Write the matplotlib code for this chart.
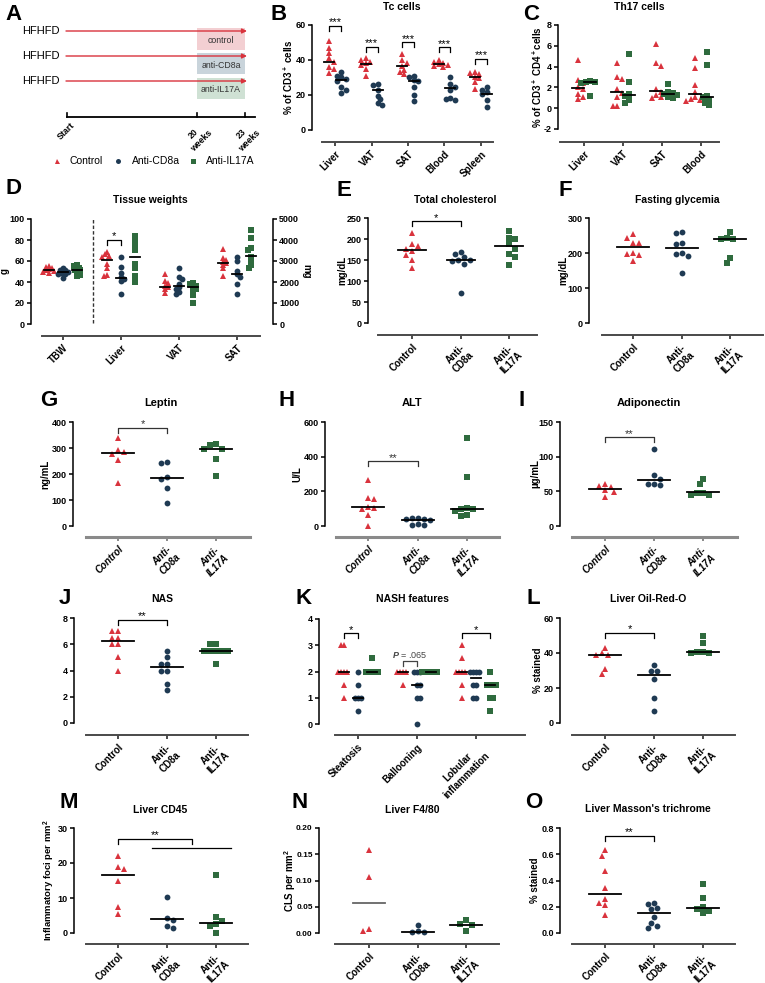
import numpy as np
import matplotlib
matplotlib.use("Agg")
import matplotlib.pyplot as plt
from matplotlib import font_manager
from matplotlib.patches import Rectangle
from matplotlib.ticker import FormatStrFormatter

names = {f.name for f in font_manager.fontManager.ttflist}
NARROW = 'Liberation Sans Narrow' if 'Liberation Sans Narrow' in names else 'Liberation Sans'

plt.rcParams['font.family'] = ['Liberation Sans', 'DejaVu Sans']
plt.rcParams['font.weight'] = 'bold'
plt.rcParams['mathtext.fontset'] = 'custom'
plt.rcParams['mathtext.rm'] = 'Liberation Sans:bold'
plt.rcParams['mathtext.it'] = 'Liberation Sans:italic'
plt.rcParams['mathtext.bf'] = 'Liberation Sans:bold'

W, H = 765, 983
RED = '#d9333d'
NAVY = '#1f3a53'
GREEN = '#2f6b3e'
STYLE = {'ctl': ('^', RED), 'cd8': ('o', NAVY), 'il17': ('s', GREEN)}

# ---------------- data ----------------
groups3 = ['Control', 'Anti-\nCD8a', 'Anti-\nIL17A']

# B  Tc cells (% of CD3+)
tc_cats = ['Liver', 'VAT', 'SAT', 'Blood', 'Spleen']
tc_ctl = [[51, 47, 44, 41, 39, 36, 35, 32.5],
          [41, 40, 39, 38.5, 37, 35, 31],
          [43.5, 40, 38, 36.8, 34.5, 33, 32],
          [40, 39, 38.5, 37.5, 37, 36.5, 36],
          [33, 32.5, 32, 30.5, 29.5, 27.5, 23.5]]
tc_cd8 = [[33, 31, 30, 29, 28, 24.5, 23, 21],
          [26.5, 25.5, 23, 19.6, 17.5, 15.2, 14],
          [31, 30, 28.5, 28, 24.5, 20, 16.8],
          [30, 26.5, 24.5, 23, 18, 17.5, 17],
          [24.3, 23, 21.5, 20.3, 17, 13]]
tc_med_ctl = [39, 37.5, 36.8, 37.5, 30]
tc_med_cd8 = [28.6, 23, 28, 24, 20.3]
tc_sig = [59.4, 47.6, 50.1, 47.2, 40.6]

# C  Th17 cells (% of CD3+ CD4+)
th_cats = ['Liver', 'VAT', 'SAT', 'Blood']
th_ctl = [[4.6, 2.7, 2.4, 2.0, 1.8, 1.4, 1.1, 0.9],
          [4.3, 3.0, 2.8, 1.8, 1.5, 1.1, 0.2, 0.2],
          [6.2, 4.3, 4.1, 1.8, 1.6, 1.3, 1.1, 1.0],
          [4.8, 3.9, 2.2, 1.6, 1.1, 0.9, 0.8, 0.7]]
th_il17 = [[2.6, 2.55, 2.5, 2.45, 1.2],
           [5.2, 2.55, 1.4, 1.2, 0.8, 0.5],
           [2.3, 1.6, 1.5, 1.4, 1.3, 1.1, 1.0],
           [5.4, 4.2, 1.2, 1.1, 0.8, 0.5, 0.3]]
th_med_ctl = [1.95, 1.6, 1.7, 1.35]
th_med_il17 = [2.5, 1.3, 1.4, 1.1]

# D  Tissue weights (TBW in g, organs in mg)
tw_cats = ['TBW', 'Liver', 'VAT', 'SAT']
tw_ctl = [[55, 54, 53, 52, 51, 50.5, 50, 49],
          [3450, 3320, 3250, 3200, 2850, 2680, 2330, 2300],
          [2380, 2050, 1950, 1800, 1760, 1650, 1500],
          [3570, 3130, 3050, 2970, 2890, 2810, 2650, 2290]]
tw_cd8 = [[53.5, 51.5, 51, 50, 49, 48, 47.5, 43.5],
          [3175, 2730, 2413, 2250, 2160, 2048, 1413],
          [2680, 2250, 2130, 1900, 1750, 1650, 1510, 1410],
          [3175, 3000, 2520, 2365, 2254, 1889, 1429]]
tw_il17 = [[56, 55, 53.5, 51.5, 51, 49, 47, 45.5],
           [4190, 3920, 3760, 3520, 2840, 2650, 2300, 1980],
           [1940, 1890, 1830, 1750, 1650, 1540, 1380, 985],
           [4480, 4110, 3600, 3520, 3210, 2970, 2810, 2680]]
tw_med_ctl = [51, 3025, 1780, 2900]
tw_med_cd8 = [49.5, 2200, 1825, 2400]
tw_med_il17 = [51.5, 3175, 1740, 3240]

# E-O three-group panels
chol = [[214, 187, 184, 176, 172, 162, 150, 130],
        [170, 164, 158, 150, 150, 147, 141, 71],
        [218, 202, 200, 188, 177, 165, 158, 139]]
chol_med = [175, 149, 184]
glu = [[254, 244, 230, 229, 201, 198, 193, 178],
       [260, 256, 230, 227, 200, 196, 192, 142],
       [260, 244, 241, 240, 185, 171]]
glu_med = [217, 213, 239]
lep = [[339, 291, 285, 277, 252, 165],
       [246, 241, 187, 180, 148, 87],
       [314, 312, 298, 295, 257, 193]]
lep_med = [281, 183, 297]
alt = [[268, 160, 153, 111, 102, 100, 63, 2],
       [48, 45, 43, 40, 36, 12, 7, 5],
       [510, 283, 103, 100, 98, 88, 62, 57]]
alt_med = [111, 34, 98]
adi = [[61, 57, 56, 52, 49, 42],
       [111, 73, 68, 61, 60, 59],
       [68, 61, 48, 47, 44, 44]]
adi_med = [54, 66, 48.4]
nas = [[7, 7, 6.5, 6.5, 6, 6, 5, 4],
       [5.5, 5, 4.5, 4.5, 4, 4, 3, 2.5],
       [6, 6, 5.5, 5.5, 5.5, 5.5, 5.5, 4.5]]
nas_med = [6.25, 4.25, 5.5]
oil = [[43, 40, 39, 39, 31, 28],
       [33, 30, 29.5, 25, 14.5, 7],
       [50, 46, 40.5, 40.3, 40.2, 40]]
oil_med = [39, 27.2, 40.6]
cd45 = [[22, 19, 18.3, 14.8, 7.4, 5.5],
        [10.4, 4.4, 3.8, 2.1, 1.4],
        [16.7, 4.5, 3.5, 2.5, 2.0, 0.1]]
cd45_med = [16.7, 3.9, 3.0]
f480 = [[0.159, 0.106, 0.008, 0.004],
        [0.015, 0.003, 0.001, 0.001],
        [0.024, 0.018, 0.015, 0.0045]]
f480_med = [0.058, 0.0025, 0.016]
mt = [[0.63, 0.59, 0.47, 0.34, 0.26, 0.23, 0.21, 0.14],
      [0.23, 0.22, 0.19, 0.18, 0.12, 0.08, 0.05, 0.04],
      [0.37, 0.27, 0.20, 0.18, 0.17, 0.15]]
mt_med = [0.30, 0.15, 0.19]

# K  NASH features (scores)
nash_cats = ['Steatosis', 'Ballooning', 'Lobular\ninflammation']
nash_ctl = [[3, 3, 2, 2, 2, 2, 1.5, 1], [2, 2, 2, 2, 1.5], [3, 2.5, 2, 2, 2, 2, 1.5, 1]]
nash_cd8 = [[2, 1.5, 1, 1, 1, 0.5], [2, 2, 2, 1.5, 1.5, 1, 1, 0], [2, 2, 2, 2, 1.5, 1.5, 1, 1]]
nash_il17 = [[2.5, 2, 2, 2, 2, 2], [2, 2, 2, 2, 2, 2], [2, 1.5, 1.5, 1.5, 1.5, 1, 1, 0.5]]
nash_med_ctl = [2, 2, 2]
nash_med_cd8 = [1, 1.5, 1.75]
nash_med_il17 = [2, 2, 1.5]

# ---------------- layout (pixels) ----------------
LAY = {
    'B': dict(spine=312, t0=335, step=36.5, x0=322, x1=493, top=25, bot=130, base=142),
    'C': dict(spine=558, t0=584, step=39, x0=560, x1=719, top=25, bot=129, base=142),
    'D': dict(spine=31, t0=63, step=58, x0=42, x1=260, right=273, top=219, bot=324, base=336),
    'E': dict(spine=368, t0=412, step=48.5, x0=378, x1=537, top=218, bot=323, base=335),
    'F': dict(spine=589, t0=633, step=48.5, x0=602, x1=763, top=218, bot=323, base=335),
    'G': dict(spine=73, t0=118, step=49, x0=86, x1=250, top=422, bot=526, base=537),
    'H': dict(spine=325, t0=368, step=49.5, x0=336, x1=499, top=422, bot=526, base=537),
    'I': dict(spine=560, t0=605, step=49, x0=572, x1=737, top=422, bot=526, base=537),
    'J': dict(spine=74, t0=118, step=49, x0=86, x1=248, top=618, bot=723, base=735),
    'K': dict(spine=319, t0=358, step=59, x0=335, x1=525, top=619, bot=724, base=735),
    'L': dict(spine=560, t0=605, step=49, x0=572, x1=735, top=618, bot=723, base=735),
    'M': dict(spine=74, t0=118, step=49, x0=86, x1=248, top=828, bot=933, base=944),
    'N': dict(spine=319, t0=369, step=48.5, x0=335, x1=499, top=828, bot=933, base=944),
    'O': dict(spine=560, t0=605, step=49, x0=572, x1=735, top=828, bot=933, base=944),
}


def px2x(L, px):
    return (px - L['t0']) / L['step']


def swarm(vals, ppu, diam):
    # simple beeswarm in pixel space, returns x offsets in px
    ys = np.asarray(vals, float) * ppu
    xs = np.zeros(len(ys))
    done = []
    for n, i in enumerate(np.argsort(-ys, kind='stable')):
        cands = [0.0]
        for k in range(1, 30):
            a = k * diam * 0.5
            cands += [a, -a] if n % 2 == 0 else [-a, a]
        for x in cands:
            if all((x - xs[j]) ** 2 + (ys[i] - ys[j]) ** 2 >= 0.9 * diam ** 2 for j in done):
                xs[i] = x
                break
        done.append(i)
    return xs


fig = plt.figure(figsize=(W / 100, H / 100), dpi=100)
ov = fig.add_axes([0, 0, 1, 1])
ov.set_xlim(0, W)
ov.set_ylim(H, 0)
ov.axis('off')


def make_ax(L, ylim, ystep, fmt='%g', gray=False, tfs=6.5):
    right = L.get('right', L['x1'])
    ax = fig.add_axes([L['spine'] / W, 1 - L['bot'] / H,
                       (right - L['spine']) / W, (L['bot'] - L['top']) / H])
    ax.patch.set_visible(False)
    ax.set_xlim(px2x(L, L['spine']), px2x(L, right))
    ax.set_ylim(*ylim)
    ax.spines[['top', 'right']].set_visible(False)
    ax.spines['left'].set_linewidth(1.1)
    sb = ax.spines['bottom']
    sb.set_position(('outward', (L['base'] - L['bot']) * 0.72))
    sb.set_bounds(px2x(L, L['x0']), px2x(L, L['x1']))
    col = '#8a8a8a' if gray else '#4a4a4a'
    sb.set_linewidth(2.2 if gray else 1.4)
    sb.set_color(col)
    ax.set_yticks(np.arange(ylim[0], ylim[1] + ystep / 2, ystep))
    ax.yaxis.set_major_formatter(FormatStrFormatter(fmt))
    ax.tick_params(axis='y', length=3, width=1.1, pad=1.5, labelsize=tfs)
    ax.tick_params(axis='x', length=3, width=1.4, pad=2, color=col, labelsize=7)
    return ax


def cat_labels(ax, labels, **kw):
    ax.set_xticks(range(len(labels)))
    ax.set_xticklabels(labels, rotation=45, ha='right', va='top',
                       rotation_mode='anchor', ma='center', **kw)


def dots(ax, L, ylim, xc, vals, key, med, hw, diam, medcol='black'):
    m, c = STYLE[key]
    ppu = (L['bot'] - L['top']) / (ylim[1] - ylim[0])
    off = swarm(vals, ppu, diam) / L['step']
    ms = {'^': 4.4, 'o': 4.2, 's': 4.0}[m]
    ax.plot(xc + off, vals, ls='none', marker=m, ms=ms, color=c, mew=0,
            clip_on=False, zorder=3)
    ax.plot([xc - hw / L['step'], xc + hw / L['step']], [med, med],
            color=medcol, lw=1.3, zorder=4, clip_on=False)


def bracket(ax, L, ylim, xa, xb, y, txt, color='black', fs=8, leg=5):
    u = (ylim[1] - ylim[0]) / (L['bot'] - L['top'])
    ax.plot([xa, xa, xb, xb], [y - leg * u, y, y, y - leg * u], color=color,
            lw=0.9, clip_on=False, zorder=5)
    if txt:
        ax.text((xa + xb) / 2, y + 3.5 * u, txt, ha='center', va='center',
                fontsize=fs, weight='normal', color=color)


def ylab(x, L, text, rot=90, fs=7, **kw):
    ov.text(x, (L['top'] + L['bot']) / 2, text, rotation=rot, ha='center',
            va='center', fontsize=fs, **kw)


# ---------------- A: study design ----------------
for y, lab, fc, yb, hb in [(31, 'control', '#f3cfd2', 28, 22),
                           (56, 'anti-CD8a', '#c9d4db', 53, 21),
                           (81, 'anti-IL17A', '#cfe1d4', 78, 21)]:
    ov.add_patch(Rectangle((197, yb), 48, hb, fc=fc, ec='none', zorder=1))
    ov.text(221, yb + hb / 2 + 1.5, lab, ha='center', va='center', fontsize=6.3,
            weight='normal', color='#333333', zorder=2)
    ov.annotate('', xy=(247, y), xytext=(66, y),
                arrowprops=dict(arrowstyle='-|>', color=RED, lw=1.0,
                                mutation_scale=7, shrinkA=0, shrinkB=0), zorder=3)
    ov.text(60, y, 'HFHFD', ha='right', va='center', fontsize=8, weight='normal')

ov.plot([67, 255], [117, 117], color='black', lw=1.3)
for x, lab in [(67, 'Start'), (197, '20\nweeks'), (245, '23\nweeks')]:
    ov.plot([x, x], [113, 117], color='black', lw=1.2)
    ov.text(x + 3, 121, lab, rotation=45, ha='right', va='top', rotation_mode='anchor',
            ma='center', fontsize=6.3, weight='bold')

for (mx, tx, key, lab) in [(57, 70, 'ctl', 'Control'), (118, 132, 'cd8', 'Anti-CD8a'),
                           (193, 206, 'il17', 'Anti-IL17A')]:
    m, c = STYLE[key]
    ov.plot([mx], [161], marker=m, ms=3.6, color=c, mew=0, ls='none')
    ov.text(tx, 161, lab, ha='left', va='center', fontsize=7.5, weight='normal')

# ---------------- B: Tc cells ----------------
L = LAY['B']
yl = (0, 60)
ax = make_ax(L, yl, 20)
d = 6 / L['step']
for i in range(len(tc_cats)):
    dots(ax, L, yl, i - d, tc_ctl[i], 'ctl', tc_med_ctl[i], 5, 4.5)
    dots(ax, L, yl, i + d, tc_cd8[i], 'cd8', tc_med_cd8[i], 5, 4.5)
    bracket(ax, L, yl, i - d, i + d, tc_sig[i], '***')
cat_labels(ax, tc_cats)
ylab(288, L, '% of CD3$^+$ cells')

# ---------------- C: Th17 cells ----------------
L = LAY['C']
yl = (-2, 8)
ax = make_ax(L, yl, 2)
d = 6 / L['step']
for i in range(len(th_cats)):
    dots(ax, L, yl, i - d, th_ctl[i], 'ctl', th_med_ctl[i], 6, 4.5)
    dots(ax, L, yl, i + d, th_il17[i], 'il17', th_med_il17[i], 6, 4.5)
cat_labels(ax, th_cats)
ylab(537, L, '% of CD3$^+$ CD4$^+$cells')

# ---------------- D: Tissue weights ----------------
L = LAY['D']
yl, yl2 = (0, 100), (0, 5000)
ax = make_ax(L, yl, 20)
ax2 = fig.add_axes(ax.get_position())
ax2.patch.set_visible(False)
ax2.set_xlim(ax.get_xlim())
ax2.set_ylim(*yl2)
ax2.spines[['top', 'left', 'bottom']].set_visible(False)
ax2.spines['right'].set_linewidth(1.1)
ax2.yaxis.tick_right()
ax2.set_xticks([])
ax2.set_yticks(np.arange(0, 5001, 1000))
ax2.tick_params(axis='y', length=3, width=1.1, pad=1.5, labelsize=6.5)
d = 14 / L['step']
for i in range(len(tw_cats)):
    a = ax if i == 0 else ax2
    lims = yl if i == 0 else yl2
    dots(a, L, lims, i - d, tw_ctl[i], 'ctl', tw_med_ctl[i], 5, 3.2)
    dots(a, L, lims, i, tw_cd8[i], 'cd8', tw_med_cd8[i], 5, 3.2)
    dots(a, L, lims, i + d, tw_il17[i], 'il17', tw_med_il17[i], 5, 3.2)
xd = px2x(L, 93)
ax.plot([xd, xd], [1, 100], color='#333333', lw=1.0, ls=(0, (2.5, 1.5)), clip_on=False)
bracket(ax, L, yl, 1 - d, 1, 80, '*')
cat_labels(ax, tw_cats)
ov.text(5, 271, 'g', rotation=90, ha='center', va='center', fontsize=7)
ov.text(306, 271, 'mg', rotation=270, ha='center', va='center', fontsize=7)


# ---------------- three-group panels ----------------
def three(key, data, meds, ylim, ystep, fmt='%g', gray=False, sig=None,
          hw=16, diam=6, medcols=('black', 'black', 'black'), tfs=6.5):
    L = LAY[key]
    ax = make_ax(L, ylim, ystep, fmt, gray, tfs)
    for i, k in enumerate(['ctl', 'cd8', 'il17']):
        dots(ax, L, ylim, i, data[i], k, meds[i], hw, diam, medcols[i])
    kw = {}
    if gray:
        kw = dict(style='italic', family=[NARROW, 'Liberation Sans'])
        for t in ax.get_yticklabels():
            t.set_family([NARROW, 'Liberation Sans'])
    cat_labels(ax, groups3, **kw)
    if sig:
        bracket(ax, L, ylim, 0, 1, sig[0], sig[1], color='#333333' if gray else 'black')
    return ax, L


ax, L = three('E', chol, chol_med, (0, 250), 50, sig=(242, '*'), hw=14)
ylab(342, L, 'mg/dL')
ax, L = three('F', glu, glu_med, (0, 300), 100)
ylab(563, L, 'mg/dL')
NF = [NARROW, 'Liberation Sans']
ax, L = three('G', lep, lep_med, (0, 400), 100, gray=True, sig=(377, '*'))
ylab(45, L, 'ng/mL', family=NF)
ax, L = three('H', alt, alt_med, (0, 600), 200, gray=True, sig=(374, '**'))
ylab(297, L, 'U/L', family=NF)
ax, L = three('I', adi, adi_med, (0, 150), 50, gray=True, sig=(128, '**'))
ylab(535, L, 'µg/mL', family=NF)
ax, L = three('J', nas, nas_med, (0, 8), 2, sig=(7.87, '**'))
ax, L = three('L', oil, oil_med, (0, 60), 20, sig=(51.4, '*'))
ylab(538, L, '% stained')
ax, L = three('M', cd45, cd45_med, (0, 30), 10)
ylab(49, L, 'Inflammatory foci per mm$^2$', fs=6.8)
bracket(ax, L, (0, 30), 0, 1.5, 26.9, '**')
ax.plot([0.7, 2.3], [24.3, 24.3], color='black', lw=0.9, clip_on=False)
ax, L = three('N', f480, f480_med, (0, 0.2), 0.05, fmt='%.2f',
              medcols=('#666666', 'black', 'black'), tfs=6)
ylab(290, L, 'CLS per mm$^2$')
ax, L = three('O', mt, mt_med, (0, 0.8), 0.2, fmt='%.1f', sig=(0.74, '**'))
ylab(535, L, '% stained')

# ---------------- K: NASH features ----------------
L = LAY['K']
yl = (0, 4)
ax = make_ax(L, yl, 1)
d = 14 / L['step']
for i in range(len(nash_cats)):
    dots(ax, L, yl, i - d, nash_ctl[i], 'ctl', nash_med_ctl[i], 5, 3)
    dots(ax, L, yl, i, nash_cd8[i], 'cd8', nash_med_cd8[i], 5, 3)
    dots(ax, L, yl, i + d, nash_il17[i], 'il17', nash_med_il17[i], 5, 3)
bracket(ax, L, yl, -d, 0, 3.46, '*')
bracket(ax, L, yl, 1 - d, 1, 2.4, None, color='#444444')
ax.text(1 - d / 2, 2.62, r'$\mathit{P}$ = .065', ha='center', va='center',
        fontsize=6.5, weight='normal', color='#444444')
bracket(ax, L, yl, 2 - d, 2 + d, 3.46, '*')
cat_labels(ax, nash_cats)

# ---------------- panel letters and titles ----------------
letters = [('A', 14, 15), ('B', 279, 15), ('C', 531, 15), ('D', 14, 188),
           ('E', 344, 190), ('F', 565, 190), ('G', 49, 400), ('H', 287, 400),
           ('I', 522, 400), ('J', 65, 598), ('K', 304, 598), ('L', 533, 598),
           ('M', 69, 803), ('N', 300, 803), ('O', 534, 803)]
for t, x, y in letters:
    ov.text(x, y, t, ha='center', va='center', fontsize=16, weight='bold')

titles = [('Tc cells', 402, 7), ('Th17 cells', 639, 7), ('Tissue weights', 150, 200),
          ('Total cholesterol', 455, 200), ('Fasting glycemia', 677, 200),
          ('NAS', 162, 599), ('NASH features', 412, 599), ('Liver Oil-Red-O', 648, 599),
          ('Liver CD45', 160, 810), ('Liver F4/80', 412, 810),
          ("Liver Masson's trichrome", 648, 809)]
for t, x, y in titles:
    ov.text(x, y, t, ha='center', va='center', fontsize=7.5, weight='bold')
for t, x, y in [('Leptin', 161, 403), ('ALT', 412, 403), ('Adiponectin', 649, 403)]:
    ov.text(x, y, t, ha='center', va='center', fontsize=8, weight='bold', family=NF)

fig.savefig('out.png', dpi=100)
